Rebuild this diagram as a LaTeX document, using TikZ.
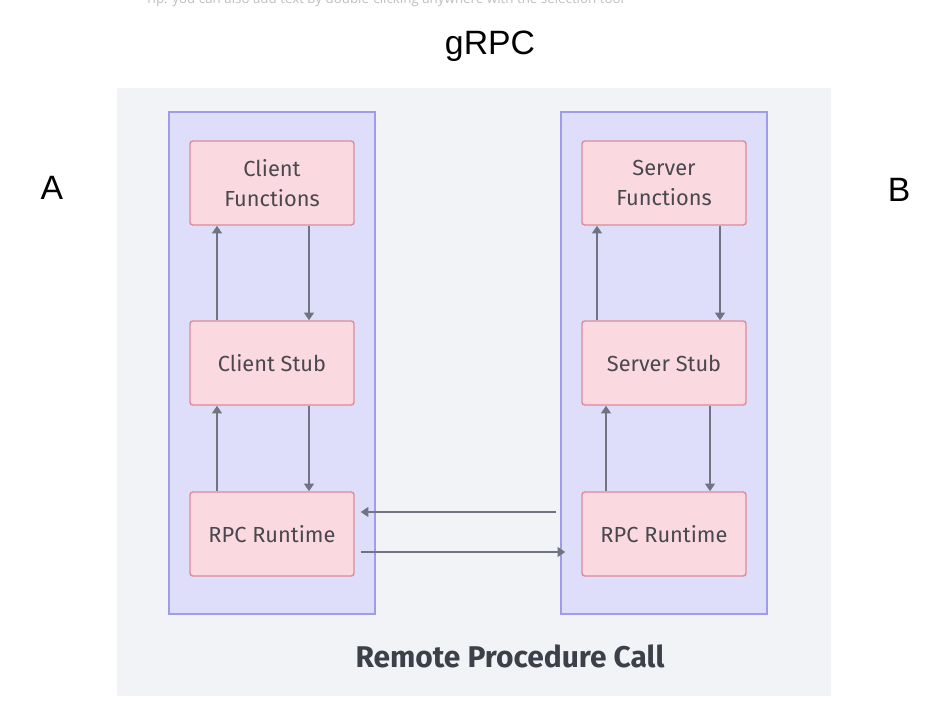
\documentclass[tikz,border=0pt]{standalone}
\usepackage{fontspec}
\setmainfont{Liberation Sans}
\newfontfamily\boxfont{Fira Sans}
\newfontfamily\tipfont{Open Sans}
\usetikzlibrary{arrows.meta}
\definecolor{panelbg}{RGB}{241,243,246}
\definecolor{lanefill}{RGB}{222,222,250}
\definecolor{laneline}{RGB}{160,156,236}
\definecolor{stagefill}{RGB}{250,218,224}
\definecolor{stageline}{RGB}{222,138,154}
\definecolor{flowgray}{RGB}{112,115,130}
\definecolor{stagetext}{RGB}{72,72,78}
\definecolor{captext}{RGB}{60,64,72}

\begin{document}
\begin{tikzpicture}[x=0.025cm,y=-0.025cm,every node/.style={inner sep=0pt},
  lane/.style={draw=laneline,fill=lanefill,line width=1.3pt},
  stage/.style={draw=stageline,fill=stagefill,line width=1pt,rounded corners=2pt,
    minimum width=4.1cm,minimum height=2.1cm,align=center,text=stagetext,
    font={\boxfont\fontsize{15.5}{21}\selectfont}},
  flow/.style={draw=flowgray,line width=1.6pt,-{Triangle[length=5.5pt,width=7pt]}},
  letter/.style={font=\fontsize{24}{28}\selectfont}]
\useasboundingbox (0,0) rectangle (948,726);
\fill[white] (0,0) rectangle (948,726);
% cut-off hint at the top
\begin{scope}
\clip (0,0) rectangle (948,726);
\node[anchor=base west,text=black!25,font={\tipfont\fontsize{9.5}{11}\selectfont}] (tip) at (145,3)
  {Tip: you can also add text by double-clicking anywhere with the selection tool};
\end{scope}
\fill[panelbg] (117,88) rectangle (831,696);
\draw[lane] (169,112) rectangle (375,614);
\draw[lane] (561,112) rectangle (767,614);
\node[letter] (title) at (490,46) {gRPC};
\node[letter] (pa) at (52,188) {A};
\node[letter] (pb) at (899,190) {B};
% client side
\node[stage] (cf) at (272,183) {Client\\Functions};
\node[stage] (cs) at (272,363) {Client Stub};
\node[stage] (cr) at (272,534) {RPC Runtime};
% server side
\node[stage] (sf) at (664,183) {Server\\Functions};
\node[stage] (ss) at (664,363) {Server Stub};
\node[stage] (sr) at (664,534) {RPC Runtime};
\draw[flow] (cs.north -| 217,0) -- (cf.south -| 217,0);
\draw[flow] (cf.south -| 309,0) -- (cs.north -| 309,0);
\draw[flow] (cr.north -| 217,0) -- (cs.south -| 217,0);
\draw[flow] (cs.south -| 309,0) -- (cr.north -| 309,0);
\draw[flow] (ss.north -| 597,0) -- (sf.south -| 597,0);
\draw[flow] (sf.south -| 720,0) -- (ss.north -| 720,0);
\draw[flow] (sr.north -| 606,0) -- (ss.south -| 606,0);
\draw[flow] (ss.south -| 710,0) -- (sr.north -| 710,0);
\draw[flow,shorten <=0.62cm,shorten >=0.15cm] (sr.west |- 0,512) -- (cr.east |- 0,512);
\draw[flow,shorten <=0.15cm,shorten >=0.4cm] (cr.east |- 0,552) -- (sr.west |- 0,552);
\node[text=captext,font={\boxfont\bfseries\fontsize{21.3}{26}\selectfont}] (cap) at (510,656) {Remote Procedure Call};
\end{tikzpicture}
\end{document}
